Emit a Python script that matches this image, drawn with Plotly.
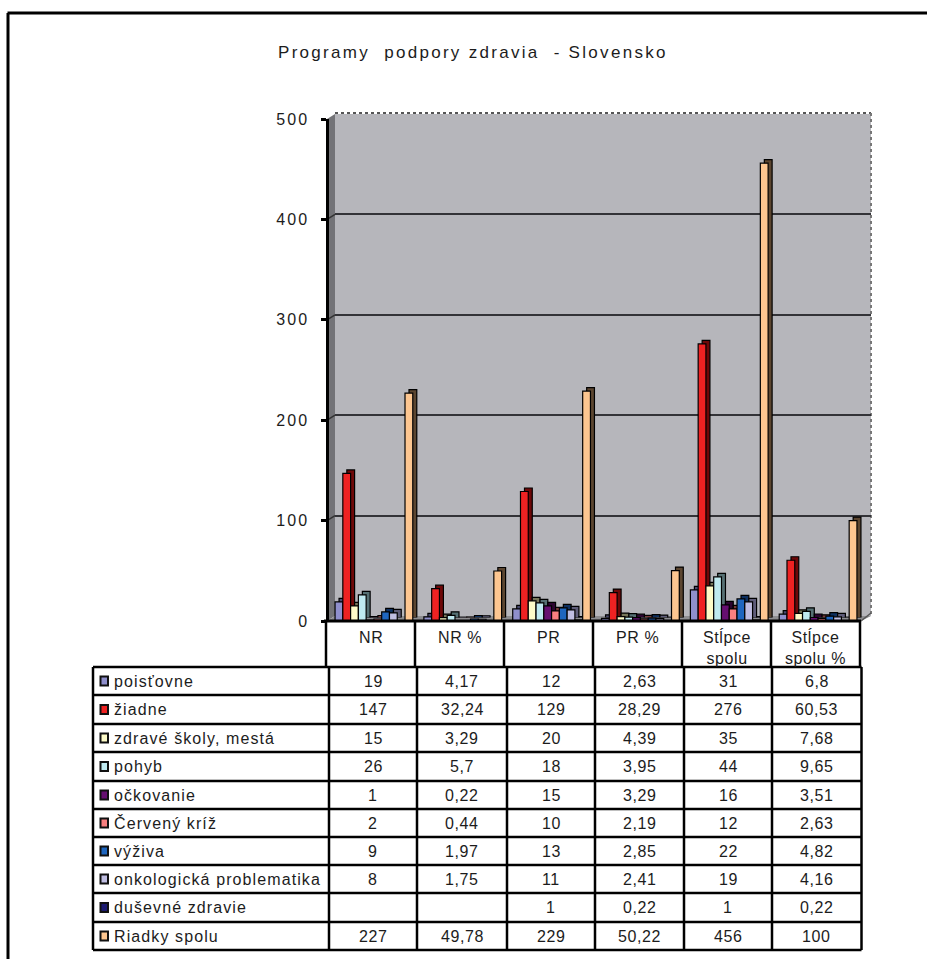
import plotly.graph_objects as go

W, H = 927, 959

# Column headings of the table and categories of the bar chart
categories = ["NR", "NR %", "PR", "PR %", "Stĺpce<br>spolu", "Stĺpce<br>spolu %"]

# One list per programme, in the order NR, NR %, PR, PR %, column total, column total %
poistovne = [19, 4.17, 12, 2.63, 31, 6.8]
ziadne = [147, 32.24, 129, 28.29, 276, 60.53]
zdrave_skoly = [15, 3.29, 20, 4.39, 35, 7.68]
pohyb = [26, 5.7, 18, 3.95, 44, 9.65]
ockovanie = [1, 0.22, 15, 3.29, 16, 3.51]
cerveny_kriz = [2, 0.44, 10, 2.19, 12, 2.63]
vyziva = [9, 1.97, 13, 2.85, 22, 4.82]
onkologia = [8, 1.75, 11, 2.41, 19, 4.16]
dusevne = [None, None, 1, 0.22, 1, 0.22]
riadky = [227, 49.78, 229, 50.22, 456, 100]

series_names = ["poisťovne", "žiadne", "zdravé školy, mestá", "pohyb", "očkovanie",
                "Červený kríž", "výživa", "onkologická problematika",
                "duševné zdravie", "Riadky spolu"]
series_values = [poistovne, ziadne, zdrave_skoly, pohyb, ockovanie,
                 cerveny_kriz, vyziva, onkologia, dusevne, riadky]
front_colors = ["#8f8fcc", "#ee2222", "#fdfbc8", "#bfeaf0", "#660f70",
                "#f98080", "#1f66bf", "#c0bee2", "#1c1a70", "#fdc690"]
side_colors = ["#4a4a70", "#6e0808", "#77775a", "#567073", "#2c0530",
               "#7a3a3a", "#0e3060", "#5e5c78", "#0c0b38", "#5c4630"]

y_ticks = [0, 100, 200, 300, 400, 500]


def px(x):
    return x / W


def py(y):
    return 1 - y / H


def spaced(text, gap):
    return f'<span style="letter-spacing:{gap}px">{text}</span>'


def cell_text(v):
    return "" if v is None else str(v).replace(".", ",")


fig = go.Figure()

# Axis set for the gridlines on the back wall
fig.add_trace(go.Scatter(x=categories, y=[None] * 6, xaxis="x", yaxis="y",
                         showlegend=False, hoverinfo="skip"))

# The dark bars sit slightly up and to the right, giving the bars their depth
for name, values, color in zip(series_names, series_values, side_colors):
    fig.add_trace(go.Bar(x=categories, y=values, name=name, xaxis="x2", yaxis="y2",
                         marker=dict(color=color, line=dict(color="#000000", width=1.2)),
                         showlegend=False, hoverinfo="skip"))

for name, values, color in zip(series_names, series_values, front_colors):
    fig.add_trace(go.Bar(x=categories, y=values, name=name, xaxis="x3", yaxis="y3",
                         marker=dict(color=color, line=dict(color="#000000", width=1.2)),
                         showlegend=False))

shapes = []
annotations = []


def line(x0, y0, x1, y1, color="#000000", width=2.5, dash="solid", layer="above"):
    shapes.append(dict(type="line", xref="paper", yref="paper",
                       x0=px(x0), y0=py(y0), x1=px(x1), y1=py(y1), layer=layer,
                       line=dict(color=color, width=width, dash=dash)))


def polygon(points, color, layer="below"):
    path = "M " + " L ".join(f"{px(a)},{py(b)}" for a, b in points) + " Z"
    shapes.append(dict(type="path", xref="paper", yref="paper", path=path,
                       fillcolor=color, line=dict(width=0), layer=layer))


def label(x, y, text, size=16, gap=0.6, align="center"):
    annotations.append(dict(xref="paper", yref="paper", x=px(x), y=py(y), text=spaced(text, gap),
                            showarrow=False, xanchor=align, yanchor="middle", align=align,
                            font=dict(family="Liberation Sans", size=size, color="#1c1c1c")))


# Outer frame, open towards the page edges
line(7.5, 13, W, 13, width=3)
line(8, 13, 8, H, width=3)

# Walls and floor of the chart box
polygon([(335, 114), (871, 114), (871, 616), (335, 616)], "#b6b6bb")
polygon([(327, 119), (335, 114), (335, 616), (327, 621)], "#737377")
polygon([(327, 621), (335, 616), (871, 616), (861, 621)], "#8d8d90")
line(335, 113, 871, 113, color="#555555", width=2, dash="dot", layer="below")
line(871, 113, 871, 616, color="#777777", width=2, dash="dot", layer="below")
line(861, 621, 871, 613, color="#555555", width=1.5, layer="below")

# Short slanted gridline ends on the side wall
for v in y_ticks[1:-1]:
    line(327, 621 - v * 1.004, 335, 616 - v * 1.004, color="#333333", width=1.5, layer="between")

# Table geometry
head_edges = [326, 415, 504, 593, 682, 771, 860]
body_edges = [93, 329, 417, 507, 595, 684, 772, 861.5]
row_edges = [667, 695, 724, 752, 781, 809, 837, 865, 893, 922, 950]

line(324, 621, 861, 621, width=3)
for x in head_edges:
    line(x, 621, x, 667)
for x in body_edges:
    line(x, 667, x, 950)
for y in row_edges:
    line(93, y, 861.5, y)

# Column headings
for i, text in enumerate(categories):
    centre = (head_edges[i] + head_edges[i + 1]) / 2
    label(centre, 637 if "<br>" not in text else 647, text)

# Table rows with a legend swatch in the first column
for r, (name, values, color) in enumerate(zip(series_names, series_values, front_colors)):
    mid = (row_edges[r] + row_edges[r + 1]) / 2
    shapes.append(dict(type="rect", xref="paper", yref="paper",
                       x0=px(100.5), x1=px(108), y0=py(mid + 4.5), y1=py(mid - 4.5),
                       fillcolor=color, line=dict(color="#111111", width=2), layer="above"))
    label(112, mid, name, gap=1.1, align="left")
    for c, v in enumerate(values):
        centre = (body_edges[c + 1] + body_edges[c + 2]) / 2
        label(centre, mid, cell_text(v))

# Title
label(473, 52, "Programy  podpory zdravia  - Slovensko", size=17, gap=2.3)

fig.update_layout(
    width=W, height=H, autosize=False,
    margin=dict(l=0, r=0, t=0, b=0, autoexpand=False),
    paper_bgcolor="#ffffff", plot_bgcolor="rgba(0,0,0,0)",
    barmode="group", bargap=0.125, bargroupgap=0,
    showlegend=False, shapes=shapes, annotations=annotations,
    font=dict(family="Liberation Sans", color="#1c1c1c"),
    xaxis=dict(domain=[px(335), px(871)], visible=False, fixedrange=True,
               categoryorder="array", categoryarray=categories),
    yaxis=dict(domain=[py(616), py(114)], range=[0, 500], showticklabels=False, ticks="",
               showgrid=True, gridcolor="#333337", gridwidth=2.2, tickvals=y_ticks[1:-1],
               zeroline=False, showline=False, fixedrange=True),
    xaxis2=dict(domain=[px(333.5), px(866.5)], visible=False, range=[-0.5, 5.5], fixedrange=True,
                categoryorder="array", categoryarray=categories),
    yaxis2=dict(domain=[py(617.5), py(115.5)], range=[0, 500], visible=False, fixedrange=True),
    xaxis3=dict(domain=[px(329.5), px(862.5)], visible=False, range=[-0.5, 5.5], fixedrange=True,
                categoryorder="array", categoryarray=categories),
    yaxis3=dict(domain=[py(621), py(119)], range=[0, 500], anchor="free", position=px(327),
                tickvals=y_ticks, ticktext=[spaced(str(t), 2) for t in y_ticks],
                ticks="outside", ticklen=5, tickwidth=2.5, tickcolor="#000000",
                tickfont=dict(family="Liberation Sans", size=16, color="#1c1c1c"),
                ticklabelstandoff=9,
                showline=True, linecolor="#000000", linewidth=2.5, showgrid=False,
                zeroline=False, fixedrange=True),
)

fig.write_html("out.html", config=dict(displayModeBar=False))
